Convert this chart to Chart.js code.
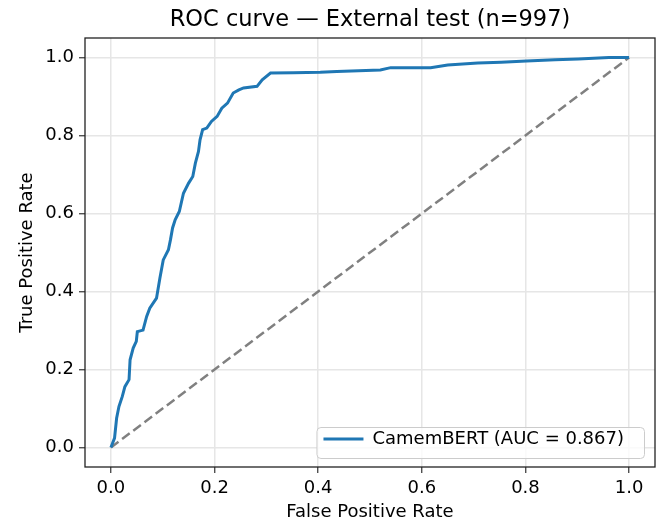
<!DOCTYPE html>
<html>
<head>
<meta charset="utf-8">
<script src="https://cdn.jsdelivr.net/npm/chart.js@4/dist/chart.umd.min.js"></script>
<style>
  html, body { margin: 0; padding: 0; background: #fff; }
  #wrap { width: 660px; height: 523px; }
</style>
</head>
<body>
<div id="wrap"><canvas id="roc" width="660" height="523"></canvas></div>
<script>
// ROC curve
const fpr = [0, 0.007, 0.011, 0.0155, 0.022, 0.027, 0.035, 0.037, 0.043, 0.049, 0.051, 0.062, 0.069, 0.075,
  0.088, 0.0945, 0.101, 0.111, 0.115, 0.119, 0.124, 0.132, 0.140, 0.150, 0.158, 0.163, 0.169, 0.172, 0.177,
  0.185, 0.194, 0.205, 0.214, 0.225, 0.236, 0.247, 0.256, 0.282, 0.292, 0.308, 0.352, 0.404, 0.436, 0.520,
  0.540, 0.617, 0.650, 0.708, 0.753, 0.802, 0.857, 0.902, 0.961, 1.0];
const tpr = [0, 0.024, 0.075, 0.105, 0.131, 0.156, 0.174, 0.225, 0.255, 0.272, 0.297, 0.301, 0.336, 0.357,
  0.383, 0.434, 0.481, 0.507, 0.533, 0.563, 0.584, 0.605, 0.652, 0.678, 0.695, 0.729, 0.759, 0.789, 0.815,
  0.819, 0.836, 0.849, 0.870, 0.883, 0.909, 0.917, 0.922, 0.926, 0.943, 0.960, 0.961, 0.962, 0.964, 0.968,
  0.974, 0.974, 0.981, 0.986, 0.988, 0.991, 0.994, 0.996, 1.0, 1.0];
const chanceX = [0, 1];
const chanceY = [0, 1];
const tickValues = [0, 0.2, 0.4, 0.6, 0.8, 1.0];
const rocLabel = 'CamemBERT (AUC = 0.867)';
const titleText = 'ROC curve \u2014 External test (n=997)';

const FONT = 'DejaVu Sans';

// full box round the plot, like matplotlib spines
const frameBox = {
  id: 'frameBox',
  afterDatasetsDraw(chart) {
    const a = chart.chartArea, ctx = chart.ctx;
    ctx.save();
    ctx.strokeStyle = '#222';
    ctx.lineWidth = 1.3;
    ctx.strokeRect(a.left, a.top, a.right - a.left, a.bottom - a.top);
    ctx.restore();
  }
};

// move the legend to the lower right corner of the plot and give it a frame
const legendCorner = {
  id: 'legendCorner',
  afterLayout(chart) {
    const lg = chart.legend, a = chart.chartArea;
    const w = lg.width + 11, h = 31;
    const fx = a.right - 11 - w, fy = a.bottom - 9 - h;
    lg._frame = { x: fx, y: fy, w: w, h: h };
    lg.left = fx + 1; lg.right = fx + w;
    lg.top = fy - 3; lg.bottom = fy + h + 20;
    if (!lg._patched) {
      const orig = lg.draw.bind(lg);
      lg.draw = function (area) {
        const f = this._frame, ctx = this.ctx;
        ctx.save();
        ctx.beginPath();
        ctx.roundRect(f.x + 0.5, f.y + 0.5, f.w, f.h, 4);
        ctx.fillStyle = 'rgba(255,255,255,0.8)';
        ctx.fill();
        ctx.strokeStyle = '#cccccc';
        ctx.lineWidth = 1;
        ctx.stroke();
        ctx.restore();
        orig(area);
      };
      lg._patched = true;
    }
  }
};

const toPts = (xs, ys) => xs.map((x, i) => ({ x: x, y: ys[i] }));

const axisCommon = (titleStr, isX) => ({
  type: 'linear',
  min: -0.05,
  max: 1.05,
  afterBuildTicks: s => { s.ticks = tickValues.map(v => ({ value: v })); },
  afterFit: s => { if (isX) s.height = 56; else s.width = 85; },
  ticks: {
    color: '#000',
    font: { family: FONT, size: 18 },
    padding: 5,
    callback: v => Number(v).toFixed(1)
  },
  grid: { color: '#e6e6e6', lineWidth: 1.5, tickColor: '#333', tickLength: 6, tickWidth: 1.2 },
  border: { display: false },
  title: {
    display: true,
    text: titleStr,
    color: '#000',
    font: { family: FONT, size: 18 },
    padding: isX ? { top: 0, bottom: 0 } : { top: 17, bottom: 0 }
  }
});

new Chart(document.getElementById('roc'), {
  type: 'line',
  data: {
    datasets: [
      {
        label: rocLabel,
        data: toPts(fpr, tpr),
        borderColor: '#1f77b4',
        backgroundColor: '#1f77b4',
        borderWidth: 3,
        pointRadius: 0,
        tension: 0,
        fill: false
      },
      {
        label: 'chance',
        data: toPts(chanceX, chanceY),
        borderColor: '#808080',
        borderWidth: 2.5,
        borderDash: [9.5, 4.5],
        borderCapStyle: 'butt',
        pointRadius: 0,
        tension: 0,
        fill: false
      }
    ]
  },
  options: {
    responsive: false,
    animation: false,
    layout: { padding: { left: 0, right: 5, top: 0, bottom: 0 } },
    plugins: {
      title: {
        display: true,
        fullSize: false,
        text: titleText,
        color: '#000',
        font: { family: FONT, size: 22.5, weight: 'normal' },
        padding: { top: 7, bottom: 4 }
      },
      legend: {
        position: 'chartArea',
        align: 'start',
        labels: {
          filter: item => item.datasetIndex === 0,
          usePointStyle: true,
          pointStyle: 'line',
          pointStyleWidth: 40,
          padding: 6,
          color: '#000',
          font: { family: FONT, size: 18 }
        }
      },
      tooltip: { enabled: false }
    },
    scales: {
      x: axisCommon('False Positive Rate', true),
      y: axisCommon('True Positive Rate', false)
    }
  },
  plugins: [frameBox, legendCorner]
});
</script>
</body>
</html>
